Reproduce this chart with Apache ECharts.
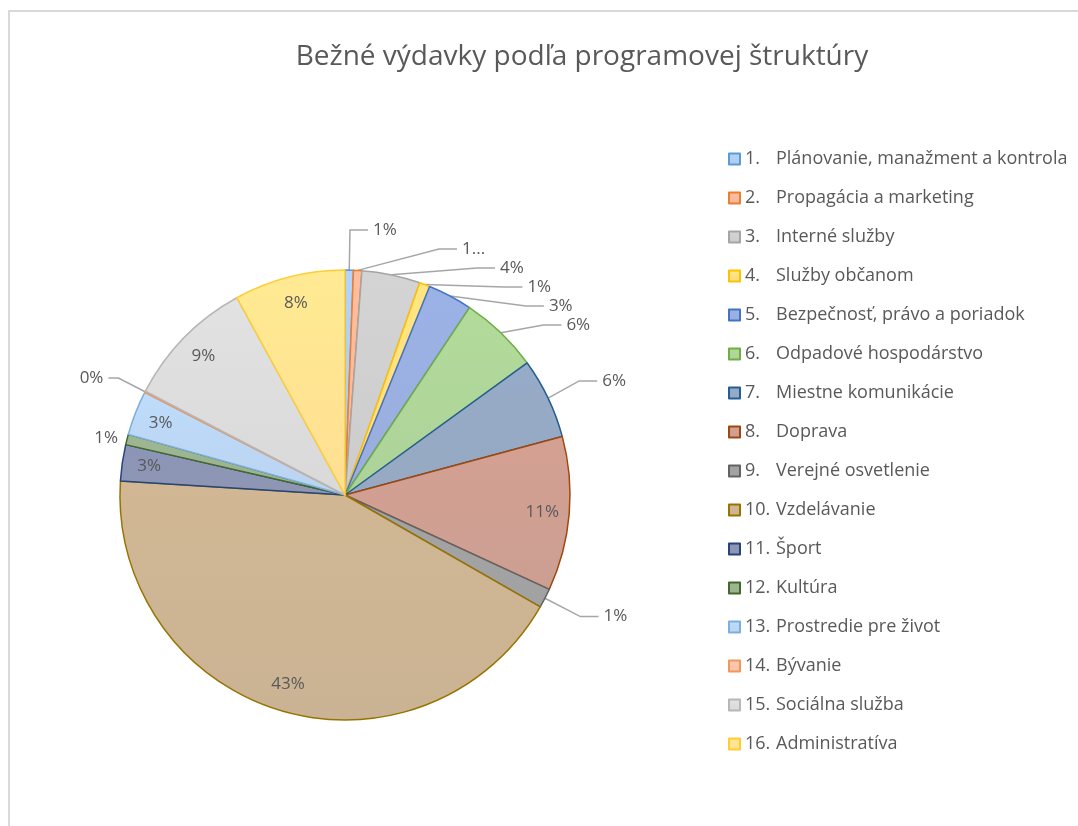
<!DOCTYPE html>
<html>
<head>
    <meta charset="utf-8">
    <title>Bežné výdavky</title>
    <script src="https://cdn.jsdelivr.net/npm/echarts@6/dist/echarts.min.js"></script>
    <style>
        body { margin: 0; background: #fff; }
        #main { position: absolute; left: 8px; top: 10px; width: 1070px; height: 816px;
                border-top: 2px solid #d9d9d9; border-left: 2px solid #d9d9d9; }
    </style>
</head>
<body>
<div id="main"></div>
<script type="text/javascript">
    // nazvy programov
    var names = [
        '1. Plánovanie, manažment a kontrola',
        '2. Propagácia a marketing',
        '3. Interné služby',
        '4. Služby občanom',
        '5. Bezpečnosť, právo a poriadok',
        '6. Odpadové hospodárstvo',
        '7. Miestne komunikácie',
        '8. Doprava',
        '9. Verejné osvetlenie',
        '10. Vzdelávanie',
        '11. Šport',
        '12. Kultúra',
        '13. Prostredie pre život',
        '14. Bývanie',
        '15. Sociálna služba',
        '16. Administratíva'
    ]
    // podiel v % (odcitane z grafu)
    var values = [0.6, 0.6, 4.2, 0.75, 3.2, 5.7, 5.8, 11.1, 1.4, 42.8, 2.6, 0.75, 3.2, 0.1, 9.4, 8.0]
    // ktore popisky su vnutri kolaca
    var insideIdx = [7, 9, 10, 12, 14, 15]

    var fills = ['#a9c8ea', '#f4b394', '#c8c8c8', '#ffd97a', '#93a8da', '#a8cf92', '#8ea2bd', '#c8978a',
                 '#9a9a9a', '#c6ad8b', '#858dad', '#95ac88', '#b5d0ee', '#f6bea4', '#d6d6d6', '#ffdd8a']
    var borders = ['#5b9bd5', '#ed7d31', '#a5a5a5', '#ffc000', '#4472c4', '#70ad47', '#255e91', '#9e480e',
                   '#636363', '#997300', '#264478', '#43682b', '#7cafdd', '#f1975a', '#b7b7b7', '#ffcd33']

    var txt = '#595959'
    var font = 'Open Sans'

    function grad(c) {
        return new echarts.graphic.LinearGradient(0, 0, 0, 1, [
            {offset: 0, color: echarts.color.lift(c, -0.06)},
            {offset: 1, color: echarts.color.lift(c, 0.08)}
        ])
    }

    var mainData = []
    var overData = []
    for (var i = 0; i < names.length; i++) {
        var inside = insideIdx.indexOf(i) >= 0
        var item = {
            name: names[i],
            value: values[i],
            itemStyle: {color: grad(fills[i]), borderColor: borders[i], borderWidth: 1.5},
            label: {show: !inside},
            labelLine: {show: !inside && i != 11}
        }
        if (i == 1) item.label.formatter = '1...'
        if (i == 11) item.labelLine.length = 4, item.labelLine.length2 = 0
        if (i == 13) item.labelLine.length = 30, item.labelLine.length2 = 10
        mainData.push(item)
        overData.push({
            name: names[i],
            value: values[i],
            label: {show: inside}
        })
    }

    var myChart = echarts.init(document.getElementById('main'))

    var option = {
        animation: false,
        title: {
            text: 'Bežné výdavky podľa programovej štruktúry',
            left: 567,
            top: 26,
            textAlign: 'center',
            textStyle: {fontFamily: font, fontSize: 28, fontWeight: 'normal', color: txt}
        },
        legend: {
            orient: 'vertical',
            left: 713,
            top: 130,
            itemWidth: 11,
            itemHeight: 11,
            itemGap: 15,
            icon: 'rect',
            data: names,
            formatter: function (n) {
                var p = n.indexOf(' ')
                return '{n|' + n.slice(0, p) + '}{t|' + n.slice(p + 1) + '}'
            },
            textStyle: {
                color: txt, fontFamily: font, fontSize: 18, lineHeight: 24,
                rich: {
                    n: {width: 31, color: txt, fontFamily: font, fontSize: 18},
                    t: {color: txt, fontFamily: font, fontSize: 18}
                }
            }
        },
        series: [{
            type: 'pie',
            center: [335, 483],
            radius: 225,
            startAngle: 90,
            clockwise: true,
            avoidLabelOverlap: true,
            emphasis: {disabled: true},
            label: {
                position: 'outside',
                color: txt, fontFamily: font, fontSize: 17,
                formatter: function (p) { return Math.round(p.value) + '%' }
            },
            labelLine: {length: 40, length2: 18, lineStyle: {color: '#a6a6a6', width: 1.5}},
            data: mainData
        }, {
            type: 'pie',
            center: [335, 483],
            radius: [165, 225],
            startAngle: 90,
            silent: true,
            emphasis: {disabled: true},
            itemStyle: {color: 'rgba(0,0,0,0)'},
            label: {
                position: 'inside',
                color: txt, fontFamily: font, fontSize: 17,
                formatter: function (p) { return Math.round(p.value) + '%' }
            },
            labelLine: {show: false},
            data: overData
        }]
    }

    myChart.setOption(option)
</script>
</body>
</html>
